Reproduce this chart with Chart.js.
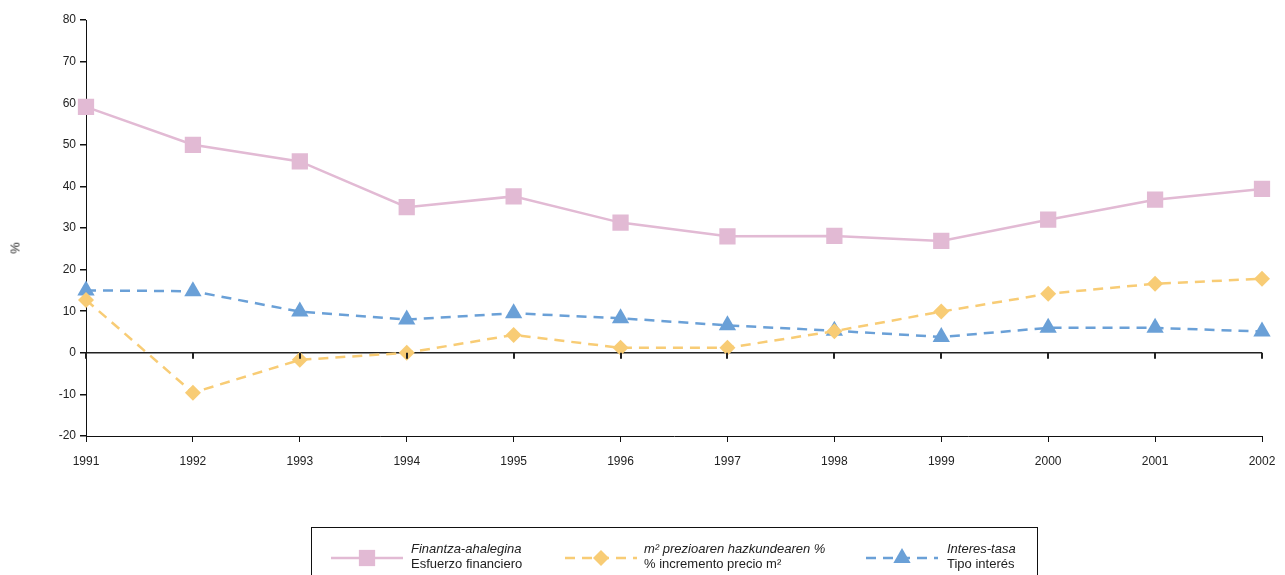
<!DOCTYPE html>
<html>
<head>
<meta charset="utf-8">
<script src="https://cdn.jsdelivr.net/npm/chart.js@4.4.1/dist/chart.umd.min.js"></script>
<style>
    html, body { margin: 0; padding: 0; background: #fff; }
    #wrap { position: relative; width: 1285px; height: 575px; overflow: hidden; }
    #chart { position: absolute; left: 0; top: 0; }
    #ytitle {
        position: absolute; left: 15px; top: 248px; transform: translate(-50%, -50%) rotate(-90deg);
        font-family: "Liberation Sans", Arial, sans-serif; font-size: 13px; color: #222;
    }
    #legend {
        position: absolute; left: 311px; top: 527px; width: 727px; height: 60px;
        border: 1px solid #111; box-sizing: border-box;
        font-family: "Liberation Sans", Arial, sans-serif; font-size: 13px; color: #222;
    }
    .item { position: absolute; top: 13px; }
    .item canvas { position: absolute; top: 4px; }
    .item .txt { position: absolute; line-height: 15px; white-space: nowrap; }
    .item .txt i { display: block; }
</style>
</head>
<body>
<div id="wrap">
    <canvas id="chart" width="1285" height="575"></canvas>
    <div id="ytitle">%</div>
    <div id="legend"></div>
</div>
<script>
const years = ['1991', '1992', '1993', '1994', '1995', '1996', '1997', '1998', '1999', '2000', '2001', '2002'];
const esfuerzo = [59.1, 50.0, 46.0, 35.0, 37.6, 31.3, 28.0, 28.1, 26.9, 32.0, 36.8, 39.4];
const incremento = [12.7, -9.6, -1.7, 0.0, 4.3, 1.2, 1.2, 5.2, 9.9, 14.2, 16.6, 17.8];
const interes = [15.0, 14.8, 9.9, 8.0, 9.5, 8.3, 6.6, 5.3, 3.8, 6.0, 6.0, 5.1];

const yTicks = { min: -20, max: 80, step: 10 };

const pink = 'rgb(226, 186, 212)';
const yellow = 'rgb(248, 204, 117)';
const blue = 'rgb(106, 160, 215)';

const series = [
    { label: 'Finantza-ahalegina', label2: 'Esfuerzo financiero', data: esfuerzo, color: pink, style: 'rect', radius: 11.5, dash: [], left: 19, txt: 99 },
    { label: 'm² prezioaren hazkundearen %', label2: '% incremento precio m²', data: incremento, color: yellow, style: 'rectRot', radius: 8, dash: [10, 7], left: 253, txt: 332 },
    { label: 'Interes-tasa', label2: 'Tipo interés', data: interes, color: blue, style: 'triangle', radius: 10, dash: [10, 7], left: 554, txt: 635 }
];

const FONT = '"Liberation Sans", Arial, sans-serif';

// short tick marks below the zero line at each year
const zeroTicks = {
    id: 'zeroTicks',
    afterDatasetsDraw(chart) {
        const ctx = chart.ctx;
        const x = chart.scales.x;
        const y0 = chart.scales.y.getPixelForValue(0);
        ctx.save();
        ctx.strokeStyle = '#222';
        ctx.lineWidth = 2;
        years.forEach((yr, i) => {
            const px = Math.round(x.getPixelForValue(i));
            ctx.beginPath();
            ctx.moveTo(px, y0);
            ctx.lineTo(px, y0 + 6);
            ctx.stroke();
        });
        ctx.restore();
    }
};

new Chart(document.getElementById('chart'), {
    type: 'line',
    data: {
        labels: years,
        datasets: series.map(s => ({
            label: s.label,
            data: s.data,
            borderColor: s.color,
            backgroundColor: s.color,
            borderWidth: 2.5,
            borderDash: s.dash,
            pointStyle: s.style,
            pointRadius: s.radius,
            pointHoverRadius: s.radius,
            pointBorderWidth: 0,
            pointBackgroundColor: s.color,
            tension: 0
        }))
    },
    options: {
        responsive: false,
        animation: false,
        layout: { padding: { top: 20, right: 23, left: 0, bottom: 0 } },
        plugins: { legend: { display: false }, tooltip: { enabled: false } },
        scales: {
            x: {
                offset: false,
                grid: { drawOnChartArea: false, drawTicks: true, tickLength: 6, tickColor: '#111', tickWidth: 1 },
                border: { display: true, color: '#111', width: 1 },
                ticks: { color: '#222', font: { family: FONT, size: 12 }, padding: 12, maxRotation: 0, autoSkip: false },
                afterFit(scale) {
                    scale.height = 139;
                    scale.paddingLeft = 0;
                    scale.paddingRight = 0;
                }
            },
            y: {
                min: yTicks.min,
                max: yTicks.max,
                grid: {
                    drawOnChartArea: true,
                    drawTicks: true,
                    tickLength: 6,
                    tickColor: '#111',
                    color: ctx => (ctx.tick && ctx.tick.value === 0 ? '#222' : 'rgba(0,0,0,0)'),
                    lineWidth: 1.5
                },
                border: { display: true, color: '#111', width: 1 },
                ticks: { stepSize: yTicks.step, color: '#222', font: { family: FONT, size: 12 }, padding: 4 },
                afterFit(scale) { scale.width = 86; }
            }
        }
    },
    plugins: [zeroTicks]
});

// legend built from the same series definitions
const legend = document.getElementById('legend');
series.forEach(s => {
    const item = document.createElement('div');
    item.className = 'item';
    item.style.left = s.left + 'px';
    const c = document.createElement('canvas');
    c.width = 72; c.height = 26;
    const g = c.getContext('2d');
    g.strokeStyle = s.color;
    g.fillStyle = s.color;
    g.lineWidth = 2.5;
    g.setLineDash(s.dash);
    g.beginPath(); g.moveTo(0, 13); g.lineTo(72, 13); g.stroke();
    g.setLineDash([]);
    Chart.helpers.drawPoint(g, { pointStyle: s.style, radius: s.radius, borderWidth: 0 }, 36, 13);
    item.appendChild(c);
    const t = document.createElement('div');
    t.className = 'txt';
    t.style.left = (s.txt - s.left) + 'px';
    t.innerHTML = '<i>' + s.label + '</i>' + s.label2;
    item.appendChild(t);
    legend.appendChild(item);
});
</script>
</body>
</html>
